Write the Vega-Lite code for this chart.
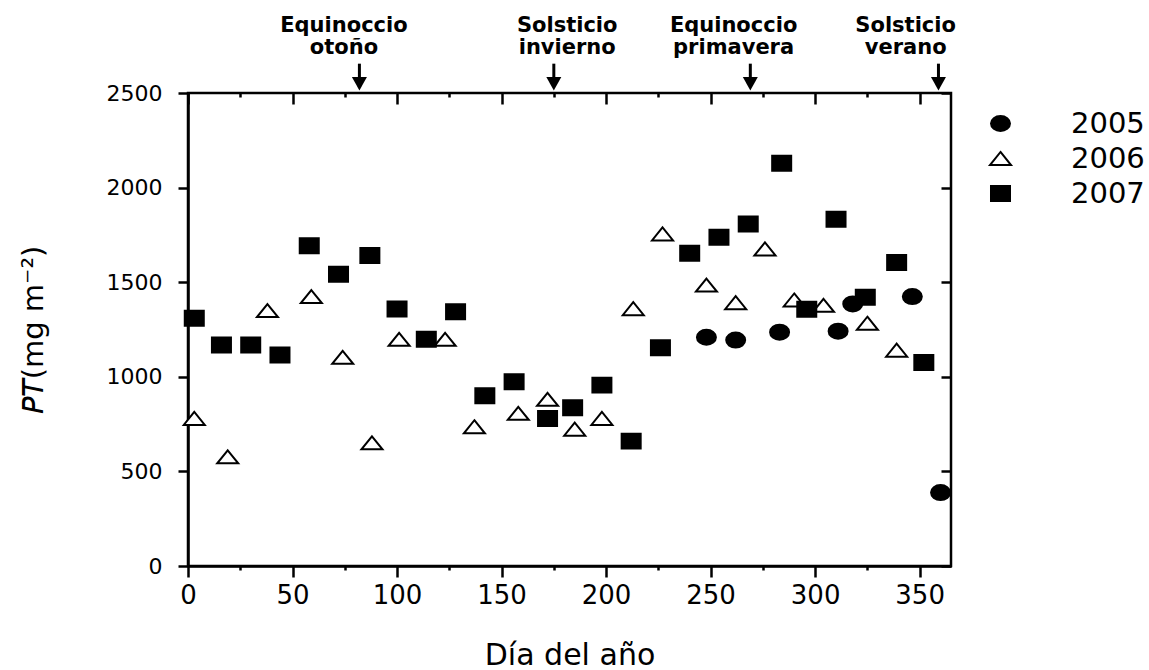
{
  "$schema": "https://vega.github.io/schema/vega-lite/v6.json",
  "width": 763,
  "height": 473,
  "autosize": {"type": "none"},
  "padding": {"left": 188, "top": 93, "right": 198, "bottom": 104},
  "background": "white",
  "config": {
    "view": {"stroke": "black", "strokeWidth": 2.5},
    "font": "DejaVu Sans",
    "axis": {
      "domainColor": "black",
      "domainWidth": 2.5,
      "tickColor": "black",
      "tickWidth": 2.5,
      "grid": false,
      "labelColor": "black",
      "titleColor": "black",
      "labelFont": "DejaVu Sans",
      "titleFont": "DejaVu Sans",
      "titleFontWeight": "normal",
      "labelFlush": false
    },
    "legend": {
      "orient": "none",
      "legendX": 798,
      "legendY": 16,
      "title": null,
      "labelFontSize": 29,
      "labelFont": "DejaVu Sans",
      "labelColor": "black",
      "labelOffset": 56,
      "symbolSize": 441,
      "symbolStrokeWidth": 2,
      "rowPadding": 5
    }
  },
  "datasets": {
    "pts": [
      {"day": 248, "pt": 1209, "year": "2005"},
      {"day": 262, "pt": 1194, "year": "2005"},
      {"day": 283, "pt": 1236, "year": "2005"},
      {"day": 311, "pt": 1241, "year": "2005"},
      {"day": 318, "pt": 1385, "year": "2005"},
      {"day": 346.5, "pt": 1424, "year": "2005"},
      {"day": 360, "pt": 388, "year": "2005"},
      {"day": 3, "pt": 780, "year": "2006"},
      {"day": 19, "pt": 577, "year": "2006"},
      {"day": 38, "pt": 1350, "year": "2006"},
      {"day": 59, "pt": 1424, "year": "2006"},
      {"day": 74, "pt": 1103, "year": "2006"},
      {"day": 88, "pt": 651, "year": "2006"},
      {"day": 101, "pt": 1198, "year": "2006"},
      {"day": 123, "pt": 1198, "year": "2006"},
      {"day": 137, "pt": 736, "year": "2006"},
      {"day": 158, "pt": 807, "year": "2006"},
      {"day": 172, "pt": 881, "year": "2006"},
      {"day": 185, "pt": 723, "year": "2006"},
      {"day": 198, "pt": 780, "year": "2006"},
      {"day": 213, "pt": 1360, "year": "2006"},
      {"day": 227, "pt": 1755, "year": "2006"},
      {"day": 248, "pt": 1485, "year": "2006"},
      {"day": 262, "pt": 1392, "year": "2006"},
      {"day": 276, "pt": 1676, "year": "2006"},
      {"day": 290, "pt": 1406, "year": "2006"},
      {"day": 304, "pt": 1378, "year": "2006"},
      {"day": 325, "pt": 1283, "year": "2006"},
      {"day": 339, "pt": 1141, "year": "2006"},
      {"day": 3, "pt": 1309, "year": "2007"},
      {"day": 16, "pt": 1168, "year": "2007"},
      {"day": 30, "pt": 1168, "year": "2007"},
      {"day": 44, "pt": 1115, "year": "2007"},
      {"day": 58, "pt": 1693, "year": "2007"},
      {"day": 72, "pt": 1542, "year": "2007"},
      {"day": 87, "pt": 1641, "year": "2007"},
      {"day": 100, "pt": 1358, "year": "2007"},
      {"day": 114, "pt": 1198, "year": "2007"},
      {"day": 128, "pt": 1344, "year": "2007"},
      {"day": 142, "pt": 900, "year": "2007"},
      {"day": 156, "pt": 974, "year": "2007"},
      {"day": 172, "pt": 780, "year": "2007"},
      {"day": 184, "pt": 836, "year": "2007"},
      {"day": 198, "pt": 956, "year": "2007"},
      {"day": 212, "pt": 660, "year": "2007"},
      {"day": 226, "pt": 1154, "year": "2007"},
      {"day": 240, "pt": 1653, "year": "2007"},
      {"day": 254, "pt": 1738, "year": "2007"},
      {"day": 268, "pt": 1808, "year": "2007"},
      {"day": 284, "pt": 2129, "year": "2007"},
      {"day": 296, "pt": 1357, "year": "2007"},
      {"day": 310, "pt": 1833, "year": "2007"},
      {"day": 324, "pt": 1420, "year": "2007"},
      {"day": 339, "pt": 1604, "year": "2007"},
      {"day": 352, "pt": 1076, "year": "2007"}
    ],
    "events": [
      {"evento": "Equinoccio\notoño", "day": 82, "labelDay": 74.6},
      {"evento": "Solsticio\ninvierno", "day": 175, "labelDay": 181.4},
      {"evento": "Equinoccio\nprimavera", "day": 269, "labelDay": 261},
      {"evento": "Solsticio\nverano", "day": 359, "labelDay": 343.3}
    ]
  },
  "resolve": {"axis": {"x": "independent", "y": "independent"}},
  "layer": [
    {
      "data": {"name": "events"},
      "mark": {"type": "rule", "strokeWidth": 3, "color": "black"},
      "encoding": {
        "x": {
          "field": "day",
          "type": "quantitative",
          "scale": {"domain": [0, 365], "nice": false, "zero": false},
          "axis": {
            "orient": "top",
            "values": [0, 50, 100, 150, 200, 250, 300, 350],
            "labels": false,
            "domain": false,
            "title": null,
            "tickSize": 11,
            "offset": -11
          }
        },
        "y": {
          "datum": 2655,
          "type": "quantitative",
          "scale": {"domain": [0, 2500], "nice": false},
          "axis": {
            "orient": "right",
            "values": [0, 500, 1000, 1500, 2000, 2500],
            "labels": false,
            "domain": false,
            "title": null,
            "tickSize": 10,
            "offset": -10
          }
        },
        "y2": {"datum": 2570}
      }
    },
    {
      "data": {"name": "events"},
      "mark": {"type": "point", "filled": true, "color": "black", "opacity": 1, "shape": "M-1,-0.9L1,-0.9L0,0.9Z", "size": 225},
      "encoding": {
        "x": {
          "field": "day",
          "type": "quantitative",
          "axis": {
            "orient": "top",
            "values": [25, 75, 125, 175, 225, 275, 325],
            "labels": false,
            "domain": false,
            "title": null,
            "tickSize": 4,
            "offset": -4
          }
        },
        "y": {"datum": 2549, "type": "quantitative", "axis": null}
      }
    },
    {
      "data": {"name": "events"},
      "mark": {"type": "text", "lineBreak": "\n", "fontSize": 21, "fontWeight": "bold", "font": "DejaVu Sans", "align": "center", "baseline": "alphabetic", "lineHeight": 22, "color": "black"},
      "encoding": {
        "x": {"field": "labelDay", "type": "quantitative", "axis": null},
        "y": {"datum": 2824, "type": "quantitative", "axis": null},
        "text": {"field": "evento"}
      }
    },
    {
      "data": {"name": "pts"},
      "mark": {"type": "point", "filled": true, "strokeWidth": 2, "opacity": 1, "size": 441},
      "encoding": {
        "x": {
          "field": "day",
          "type": "quantitative",
          "axis": {
            "orient": "bottom",
            "values": [0, 25, 50, 75, 100, 125, 150, 175, 200, 225, 250, 275, 300, 325, 350],
            "labelExpr": "datum.value % 50 === 0 ? datum.label : ''",
            "tickSize": {"condition": {"test": "datum.value % 50 !== 0", "value": 4}, "value": 11},
            "labelFontSize": 26,
            "labelPadding": 5,
            "title": "Día del año",
            "titleFontSize": 30,
            "titlePadding": 32
          }
        },
        "y": {
          "field": "pt",
          "type": "quantitative",
          "axis": {
            "orient": "left",
            "values": [0, 500, 1000, 1500, 2000, 2500],
            "format": "d",
            "tickSize": 10,
            "labelFontSize": 22,
            "labelPadding": 16,
            "title": "𝘗𝘛(mg m⁻²)",
            "titleFontSize": 29,
            "titlePadding": 58
          }
        },
        "shape": {
          "field": "year",
          "type": "nominal",
          "scale": {
            "domain": ["2005", "2006", "2007"],
            "range": [
              "M-0.905,0A0.905,0.714 0 1,0 0.905,0A0.905,0.714 0 1,0 -0.905,0Z",
              "M0,-0.62L1,0.62L-1,0.62Z",
              "M-0.905,-0.714H0.905V0.714H-0.905Z"
            ]
          }
        },
        "fill": {
          "field": "year",
          "type": "nominal",
          "scale": {"domain": ["2005", "2006", "2007"], "range": ["black", "white", "black"]}
        },
        "stroke": {
          "field": "year",
          "type": "nominal",
          "scale": {"domain": ["2005", "2006", "2007"], "range": ["black", "black", "black"]}
        }
      }
    }
  ]
}
